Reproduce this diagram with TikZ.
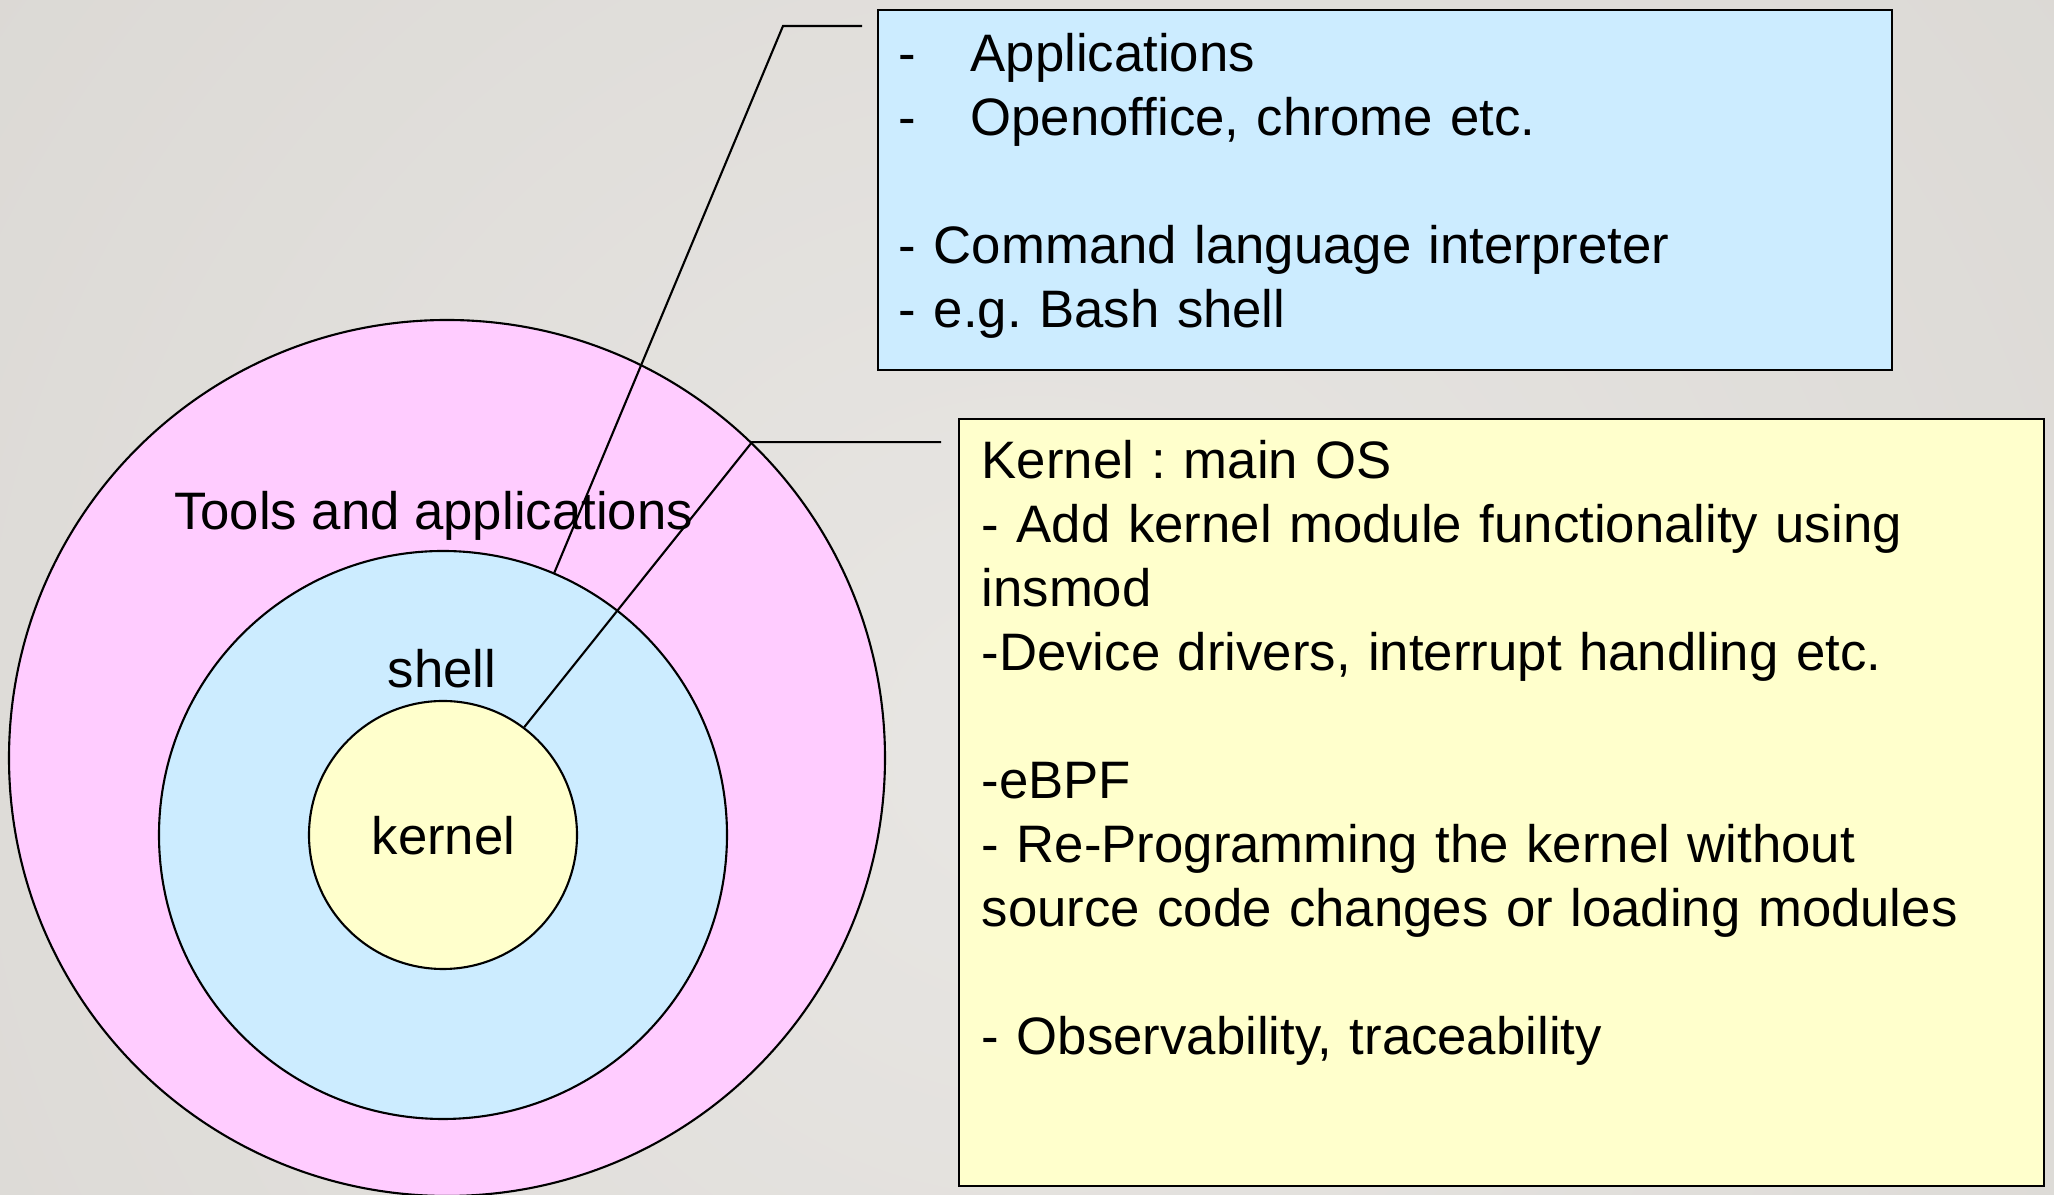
\documentclass[tikz,border=0pt]{standalone}
\usepackage{fontspec}
\setmainfont{Liberation Sans}
\usepackage{xcolor}
\usetikzlibrary{calc}

\definecolor{bgdark}{HTML}{CFCCC7}
\definecolor{bglight}{HTML}{E8E6E3}
\definecolor{toolpink}{HTML}{FFCCFF}
\definecolor{shellblue}{HTML}{CCECFF}
\definecolor{kernyellow}{HTML}{FFFFCC}
\frenchspacing

\begin{document}
\begin{tikzpicture}[
    layer/.style={circle, draw=black, line width=0.6pt, inner sep=0pt},
    infobox/.style={draw=black, line width=0.6pt, anchor=north west, inner sep=0pt},
    infotext/.style={anchor=base west, inner sep=0pt, text width=10.4cm, align=left,
        font=\fontsize{15}{18.2}\selectfont},
    ringlabel/.style={anchor=base, inner sep=0pt, font=\fontsize{15}{18.2}\selectfont},
    callout/.style={draw=black, line width=0.6pt}
]
    % Background
    \useasboundingbox (0,0) rectangle (20.54,11.95);
    \begin{scope}
        \clip (0,0) rectangle (20.54,11.95);
        \shade[inner color=bglight, outer color=bgdark] (10.3,4.5) circle (26);
    \end{scope}

    % Rings
    \node[layer, fill=toolpink, minimum size=8.76cm] (tools) at (4.47,4.37) {};
    \node[layer, fill=shellblue, minimum size=5.68cm] (shell) at (4.43,3.60) {};
    \node[layer, fill=kernyellow, minimum size=2.68cm] (kernel) at (4.43,3.60) {};

    \node[ringlabel] (toolslbl) at (4.335,6.65) {Tools and applications};
    \node[ringlabel] (shelllbl) at (4.42,5.07) {shell};
    \node[ringlabel] (kernellbl) at (4.435,3.40) {kernel};

    % Boxes
    \node[infobox, fill=shellblue, minimum width=10.14cm, minimum height=3.60cm] (appbox) at (8.77,11.86) {};
    \node[infobox, fill=kernyellow, minimum width=10.85cm, minimum height=7.67cm] (kernbox) at (9.58,7.77) {};

    \node[infotext] (apptext) at ([xshift=2.1mm, yshift=-6.3mm]appbox.north west) {%
        \makebox[7.2mm][l]{-}Applications\\
        \makebox[7.2mm][l]{-}Openoffice, chrome etc.\\[\baselineskip]
        - Command language interpreter\\
        - e.g. Bash shell};
    \node[infotext] (kerntext) at ([xshift=2.3mm, yshift=-6.1mm]kernbox.north west) {%
        Kernel : main OS\\
        - Add kernel module functionality using\\
        insmod\\
        -Device drivers, interrupt handling etc.\\[\baselineskip]
        -eBPF\\
        - Re-Programming the kernel without\\
        source code changes or loading modules\\[\baselineskip]
        - Observability, traceability};

    % Callouts
    \coordinate (appknee) at (7.83,11.69);
    \coordinate (append) at ([xshift=-1.5mm]appbox.west |- appknee);
    \draw[callout] (append) -- (appknee) -- (shell.67.8);

    \coordinate (kernknee) at (tools.46);
    \coordinate (kernend) at ([xshift=-1.7mm]kernbox.west |- kernknee);
    \draw[callout] (kernend) -- (kernknee) -- (kernel.53.5);
\end{tikzpicture}
\end{document}
